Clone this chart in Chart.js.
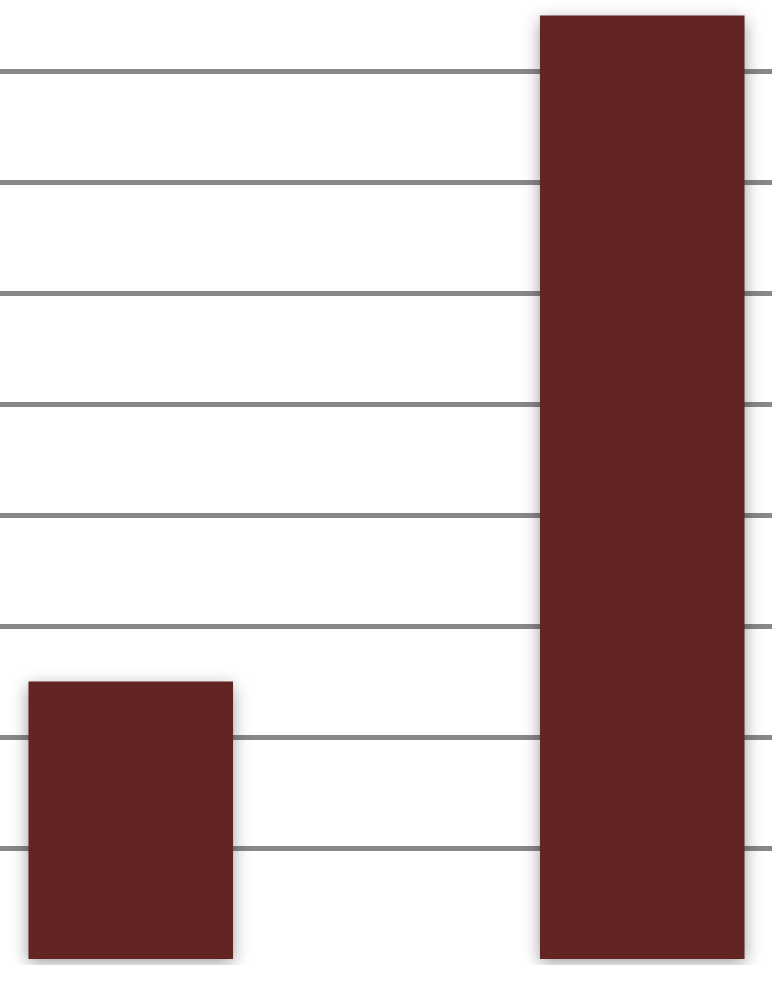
<!DOCTYPE html>
<html>
<head>
<meta charset="utf-8">
<script src="https://cdn.jsdelivr.net/npm/chart.js@4/dist/chart.umd.min.js"></script>
<style>
html,body{margin:0;padding:0;background:#fff;overflow:hidden;width:772px;height:1000px;}
#wrap{position:absolute;left:-125px;top:0;width:1023px;height:1000px;}
</style>
</head>
<body>
<div id="wrap"><canvas id="c" width="1023" height="1000"></canvas></div>
<script>
const categories = ["A", "B"];
const values = [2.5, 8.5];
const tickValues = [0, 1, 2, 3, 4, 5, 6, 7, 8];

const shadowPlugin = {
  id: 'barShadow',
  beforeDatasetsDraw(chart) {
    const ctx = chart.ctx;
    ctx.save();
    ctx.shadowColor = 'rgba(0,0,0,0.38)';
    ctx.shadowBlur = 16;
    ctx.shadowOffsetX = 0;
    ctx.shadowOffsetY = 4;
  },
  afterDatasetsDraw(chart) {
    chart.ctx.restore();
  }
};

new Chart(document.getElementById('c'), {
  type: 'bar',
  data: {
    labels: categories,
    datasets: [{
      data: values,
      backgroundColor: '#632424',
      borderWidth: 0,
      barPercentage: 0.8,
      categoryPercentage: 0.5
    }]
  },
  plugins: [shadowPlugin],
  options: {
    responsive: false,
    animation: false,
    devicePixelRatio: 1,
    layout: { padding: { top: 0, bottom: 35, left: 0, right: 0 } },
    plugins: { legend: { display: false }, tooltip: { enabled: false } },
    scales: {
      x: {
        display: false
      },
      y: {
        min: -0.054,
        max: 8.64,
        afterBuildTicks(scale) {
          scale.ticks = tickValues.filter(v => v > 0).map(v => ({ value: v }));
        },
        ticks: { display: false },
        grid: { color: '#888888', lineWidth: 5, drawTicks: false },
        border: { display: false }
      }
    }
  }
});
</script>
</body>
</html>
